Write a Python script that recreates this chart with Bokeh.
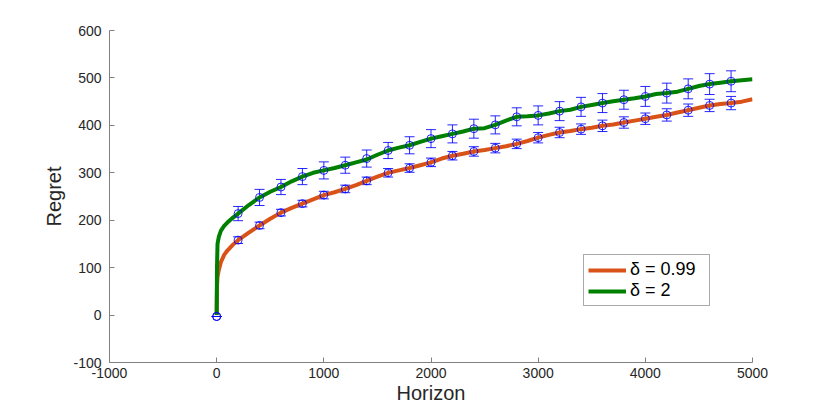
import numpy as np
from bokeh.plotting import figure
from bokeh.models import ColumnDataSource, Whisker, TeeHead, Legend, LegendItem, FixedTicker
from bokeh.embed import file_html
from bokeh.resources import INLINE

# ---- data ----
line_x = [0, 3, 8, 20, 40, 70, 100, 150] + list(range(200, 5001, 100))
green_line = [0, 100, 150, 165, 178, 188, 195, 205,
              214, 232, 248, 260, 270, 282, 292, 300, 305, 310,
              316, 322, 328, 338, 347, 353, 358, 365, 372, 377,
              382, 387, 393, 394, 401, 410, 418, 419, 421, 425,
              430, 433, 439, 443, 447, 451, 454, 457, 461, 466,
              468, 471, 477, 483, 487, 490, 493, 495, 497]
orange_line = [0, 60, 80, 95, 112, 127, 136, 148,
               158, 174, 189, 203, 216, 226, 235, 244, 253, 259,
               266, 274, 283, 292, 300, 305, 310, 316, 322, 330,
               336, 340, 345, 348, 352, 356, 361, 367, 374, 380,
               385, 388, 392, 395, 399, 402, 406, 410, 414, 418,
               422, 427, 432, 437, 442, 445, 447, 450, 455]

marker_x = list(range(0, 4801, 200))
green_mean = [-3, 214, 248, 270, 292, 305, 316, 330, 347, 358, 372, 382, 393,
              401, 418, 421, 430, 439, 447, 454, 461, 468, 477, 487, 493]
green_err = [0, 15, 17, 16, 17, 18, 17, 18, 17, 18, 19, 19, 20,
             19, 19, 20, 20, 20, 20, 20, 21, 21, 21, 22, 22]
orange_mean = [-3, 158, 189, 216, 235, 253, 266, 283, 300, 310, 322, 336, 345,
               352, 361, 374, 385, 392, 399, 406, 414, 422, 432, 442, 447]
orange_err = [0, 7, 7, 7, 7, 8, 8, 8, 9, 9, 9, 9, 10,
              10, 10, 11, 11, 11, 12, 12, 12, 13, 13, 13, 14]

x_ticks = [-1000, 0, 1000, 2000, 3000, 4000, 5000]
y_ticks = [-100, 0, 100, 200, 300, 400, 500, 600]
labels = ["δ = 0.99", "δ = 2"]

FONT = "Liberation Sans"
ORANGE = "#D95319"
GREEN = "#008000"
BLUE = "#0000FF"

p = figure(width=814, height=408, x_range=(-1000, 5000), y_range=(-100, 600),
           output_backend="svg", toolbar_location=None,
           min_border_left=109, min_border_right=62, min_border_top=30, min_border_bottom=46)
p.outline_line_color = None
p.xgrid.visible = False
p.ygrid.visible = False
p.background_fill_color = "white"
p.border_fill_color = "white"

for ax, ticks in ((p.xaxis, x_ticks), (p.yaxis, y_ticks)):
    ax.ticker = FixedTicker(ticks=ticks)
    ax.major_label_overrides = {t: str(t) for t in ticks}
    ax.minor_tick_line_color = None
    ax.major_tick_in = 5
    ax.major_tick_out = 0
    ax.axis_line_color = "#808080"
    ax.major_tick_line_color = "#808080"
    ax.major_label_text_font = FONT
    ax.major_label_text_font_size = "14px"
    ax.major_label_text_color = "#262626"
    ax.axis_label_text_font = FONT
    ax.axis_label_text_font_style = "normal"
    ax.axis_label_text_color = "#262626"

p.xaxis.axis_label = "Horizon"
p.yaxis.axis_label = "Regret"
p.xaxis.axis_label_text_font_size = "20px"
p.yaxis.axis_label_text_font_size = "20px"
p.xaxis.major_label_standoff = 5
p.xaxis.axis_label_standoff = 1
p.yaxis.major_label_standoff = 8
p.yaxis.axis_label_standoff = 5

r_orange = p.line(line_x, orange_line, line_color=ORANGE, line_width=4)
r_green = p.line(line_x, green_line, line_color=GREEN, line_width=4)

for mean, err in ((orange_mean, orange_err), (green_mean, green_err)):
    m = np.array(mean, dtype=float)
    e = np.array(err, dtype=float)
    src = ColumnDataSource(dict(x=marker_x, y=m, upper=m + e, lower=m - e))
    w = Whisker(source=src, base="x", upper="upper", lower="lower",
                line_color=BLUE, line_alpha=0.85, line_width=1,
                upper_head=TeeHead(size=10, line_color=BLUE, line_alpha=0.85, line_width=1),
                lower_head=TeeHead(size=10, line_color=BLUE, line_alpha=0.85, line_width=1))
    p.add_layout(w)
    p.scatter("x", "y", source=src, marker="circle", size=8, fill_color=None,
              line_color=BLUE, line_alpha=0.85, line_width=1)

legend = Legend(items=[LegendItem(label=labels[0], renderers=[r_orange]),
                       LegendItem(label=labels[1], renderers=[r_green])],
                location=(474, 56))
legend.label_text_font = FONT
legend.label_text_font_size = "18px"
legend.label_text_color = "#000000"
legend.glyph_width = 38
legend.glyph_height = 16
legend.label_height = 16
legend.label_width = 75
legend.spacing = 0
legend.padding = 4
legend.margin = 0
legend.label_standoff = 4
legend.border_line_color = "#555555"
legend.border_line_width = 1
legend.background_fill_color = "white"
p.add_layout(legend, "center")

open("out.html", "w").write(file_html(p, INLINE))
